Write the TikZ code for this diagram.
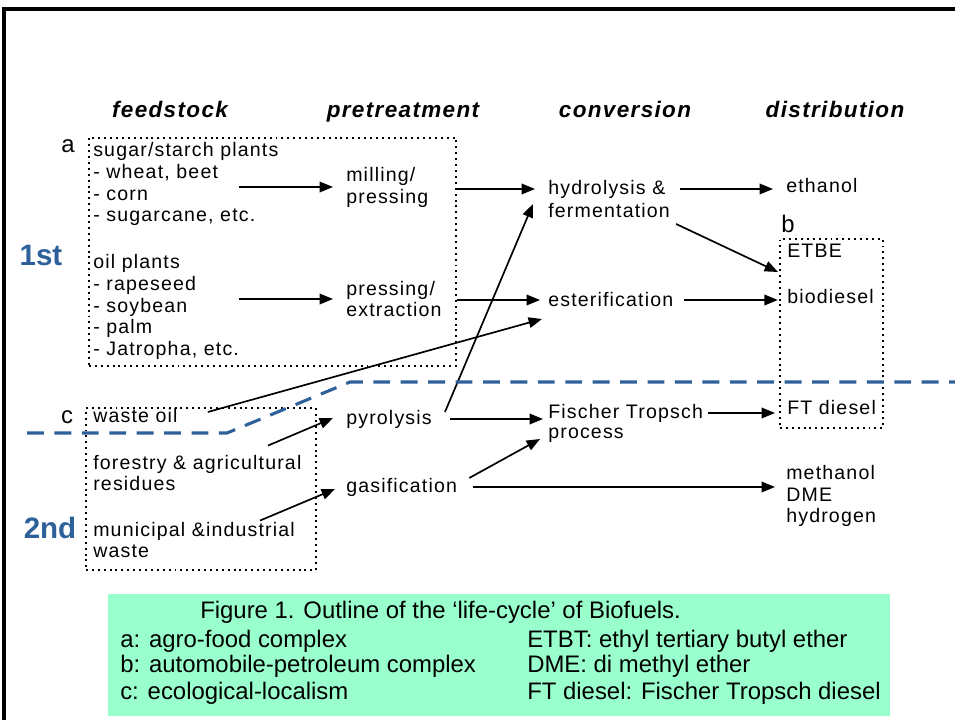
\documentclass[tikz,border=0pt]{standalone}
\usepackage{fontspec}
\usepackage{tikz}
\usetikzlibrary{arrows.meta}
\newfontfamily\diagfont{Liberation Sans}[LetterSpace=6]
\newfontfamily\capfont{Liberation Sans}
\definecolor{genblue}{RGB}{46,96,154}
\definecolor{capgreen}{RGB}{153,255,204}

\begin{document}
\begin{tikzpicture}[x=0.025cm, y=-0.025cm,
  lbl/.style={anchor=west, inner sep=0pt, align=left, font=\diagfont\fontsize{13.9}{15.6}\selectfont},
  head/.style={inner sep=0pt, anchor=base, font=\diagfont\bfseries\itshape\fontsize{16}{19}\selectfont},
  gen/.style={inner sep=0pt, text=genblue, font=\capfont\bfseries\fontsize{21}{24}\selectfont},
  tag/.style={inner sep=0pt, font=\capfont\fontsize{17}{19}\selectfont},
  dotbox/.style={draw, line width=1.3pt, dash pattern=on 1.4pt off 2.8pt, inner sep=0pt, anchor=north west},
  arr/.style={line width=1.2pt, -{Triangle[length=9.5pt,width=7.5pt]}},
  captxt/.style={anchor=west, inner sep=0pt, font=\capfont\fontsize{17}{19}\selectfont}]
  \useasboundingbox (0,0) rectangle (955,720);
  \draw[line width=2.2pt] (4,720) -- (4,9) -- (955,9);

  \node[head] (hfeed) at (170,118) {feedstock};
  \node[head] (hpre) at (403,118) {pretreatment};
  \node[head] (hconv) at (625,118) {conversion};
  \node[head] (hdist) at (835,118) {distribution};

  \node[dotbox, minimum width=9.175cm, minimum height=5.7cm] (boxa) at (88,137) {};
  \node[dotbox, minimum width=2.575cm, minimum height=4.725cm] (boxb) at (779,238) {};
  \node[dotbox, minimum width=5.75cm, minimum height=4.05cm] (boxc) at (85,407) {};
  \node[tag] (laba) at (68,146) {a};
  \node[tag] (labb) at (788,224) {b};
  \node[tag] (labc) at (67,417) {c};
  \node[gen] (first) at (41,255) {1st};
  \node[gen] (second) at (50,528) {2nd};

  \node[lbl] (sugar) at (93,184) {sugar/starch plants\\- wheat, beet\\- corn\\- sugarcane, etc.};
  \node[lbl] (oil) at (93,307) {oil plants\\- rapeseed\\- soybean\\- palm\\- Jatropha, etc.};
  \node[lbl] (wasteoil) at (93,416) {waste oil};
  \node[lbl] (forestry) at (93,473) {forestry \& agricultural\\residues};
  \node[lbl] (municipal) at (93,540) {municipal \&industrial\\waste};

  \node[lbl] (milling) at (346,187) {milling/\\pressing};
  \node[lbl] (pressing) at (346,299) {pressing/\\extraction};
  \node[lbl] (pyro) at (346,419) {pyrolysis};
  \node[lbl] (gasif) at (346,487) {gasification};

  \node[lbl] (hydro) at (548,189) {hydrolysis \&};
  \node[lbl] (ferm) at (548,211) {fermentation};
  \node[lbl] (ester) at (548,300) {esterification};
  \node[lbl] (fischer) at (548,413) {Fischer Tropsch};
  \node[lbl] (proc) at (548,435) {process};

  \node[lbl] (ethanol) at (786,186) {ethanol};
  \node[lbl] (etbe) at (787,251) {ETBE};
  \node[lbl] (biodiesel) at (787,297) {biodiesel};
  \node[lbl] (ftdiesel) at (787,408) {FT diesel};
  \node[lbl] (methanol) at (786,496) {methanol\\DME\\hydrogen};

  \draw[arr, shorten >=0.325cm] (milling.west -| oil.east) -- (milling.west);
  \draw[arr, shorten >=0.325cm] (pressing.west -| oil.east) -- (pressing.west);
  \draw[arr, shorten >=0.325cm] (hydro.west -| boxa.east) -- (hydro.west);
  \draw[arr, shorten >=0.2cm] (ester.west -| boxa.east) -- (ester.west);
  \draw[arr, shorten <=0.35cm, shorten >=0.325cm] (hydro.east) -- (hydro.east -| ethanol.west);
  \draw[arr] ([shift={(6,13)}]ferm.east) -- ([shift={(-1,34)}]boxb.north west);
  \draw[arr, shorten <=0.25cm, shorten >=0.03cm] (ester.east) -- (ester.east -| boxb.west);
  \draw[arr] ([shift={(30,-4)}]wasteoil.east) -- ([shift={(-6,19)}]ester.west);
  \draw[arr] ([shift={(13,-7)}]pyro.east) -- ([shift={(-15,-7)}]ferm.west);
  \draw[arr, shorten <=0.45cm, shorten >=0.125cm] (pyro.east) -- (pyro.east -| fischer.west);
  \draw[arr, shorten <=0.125cm, shorten >=0.1cm] (fischer.east) -- (fischer.east -| boxb.west);
  \draw[arr] ([shift={(12,-9)}]gasif.east) -- ([shift={(-8,4)}]proc.west);
  \draw[arr, shorten <=0.4cm, shorten >=0.275cm] (gasif.east) -- (gasif.east -| methanol.west);
  \draw[arr] ([shift={(175,-9)}]forestry.north west) -- ([shift={(-13,-1)}]pyro.west);
  \draw[arr] ([shift={(167,-1)}]municipal.north west) -- ([shift={(-11,2)}]gasif.west);

  \draw[genblue, line width=2.2pt, dash pattern=on 12pt off 7.5pt] (27,433) -- (227,433) -- (350,382) -- (955,382);

  \fill[capgreen] (108,594) rectangle (890,716);
  \node[captxt] (title) at (200,612) {Figure 1. Outline of the ‘life-cycle’ of Biofuels.};
  \node[captxt] (capa) at (120,641) {a: agro-food complex};
  \node[captxt] (capb) at (120,666) {b: automobile-petroleum complex};
  \node[captxt] (capc) at (120,693) {c: ecological-localism};
  \node[captxt] (etbt) at (527,641) {ETBT: ethyl tertiary butyl ether};
  \node[captxt] (dme) at (527,666) {DME: di methyl ether};
  \node[captxt] (ftd) at (527,693) {FT diesel: Fischer Tropsch diesel};
\end{tikzpicture}
\end{document}
